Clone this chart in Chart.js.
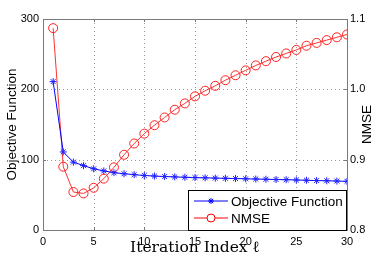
<!DOCTYPE html>
<html>
<head>
<meta charset="utf-8">
<script src="https://cdn.jsdelivr.net/npm/chart.js@4.4.0/dist/chart.umd.min.js"></script>
<style>
  html, body { margin: 0; padding: 0; background: #fff; }
  #wrap { width: 374px; height: 259px; }
</style>
</head>
<body>
<div id="wrap"><canvas id="convergenceChart" width="374" height="259"></canvas></div>
<script>
var iterations = [1, 2, 3, 4, 5, 6, 7, 8, 9, 10, 11, 12, 13, 14, 15, 16, 17, 18, 19, 20, 21, 22, 23, 24, 25, 26, 27, 28, 29, 30];
var objectiveValues = [211, 111, 96.5, 91.5, 87, 84, 81.5, 80, 78.7, 77.5, 76.7, 76, 75.5, 75, 74.5, 74.2, 73.8, 73.5, 73.2, 72.8, 72.5, 72.2, 71.8, 71.5, 71.1, 70.7, 70.3, 70, 69.6, 69.2];
var nmseValues = [1.087, 0.890, 0.854, 0.852, 0.860, 0.873, 0.889, 0.907, 0.923, 0.937, 0.949, 0.960, 0.971, 0.980, 0.990, 0.998, 1.005, 1.013, 1.020, 1.027, 1.034, 1.040, 1.046, 1.051, 1.056, 1.062, 1.066, 1.070, 1.074, 1.078];
var xTicks = [0, 5, 10, 15, 20, 25, 30];
var leftTicks = [0, 100, 200, 300];
var rightTicks = [0.8, 0.9, 1, 1.1];
var seriesNames = ["Objective Function", "NMSE"];

var sansFont = "'Liberation Sans', Arial, sans-serif";
var serifFont = "'DejaVu Serif', 'Liberation Serif', serif";

function toPoints(xs, ys){
    return xs.map(function(x, i){ return {x: x, y: ys[i]}; });
}

function fixedTicks(list){
    return function(scale){
        scale.ticks = list.map(function(v){ return {value: v}; });
    };
}

// dotted grid under the lines, box + inward ticks + legend + right title on top (MATLAB look)
var matlabFrame = {
    id: 'matlabFrame',
    beforeDatasetsDraw: function(chart){
        var ctx = chart.ctx;
        var a = chart.chartArea;
        var sx = chart.scales.x, sl = chart.scales.yLeft;
        ctx.save();
        ctx.strokeStyle = '#9a9a9a';
        ctx.lineWidth = 1;
        ctx.setLineDash([1, 3]);
        ctx.beginPath();
        xTicks.slice(1, -1).forEach(function(v){
            var px = Math.round(sx.getPixelForValue(v)) + 0.5;
            ctx.moveTo(px, a.top); ctx.lineTo(px, a.bottom);
        });
        leftTicks.slice(1, -1).forEach(function(v){
            var py = Math.round(sl.getPixelForValue(v)) + 0.5;
            ctx.moveTo(a.left, py); ctx.lineTo(a.right, py);
        });
        ctx.stroke();
        ctx.restore();
    },
    afterDraw: function(chart){
        var ctx = chart.ctx;
        var a = chart.chartArea;
        var sx = chart.scales.x, sl = chart.scales.yLeft, sr = chart.scales.yRight;
        ctx.save();
        ctx.strokeStyle = '#7a7a7a';
        ctx.lineWidth = 1;
        ctx.strokeRect(Math.round(a.left) + 0.5, Math.round(a.top) + 0.5, Math.round(a.right - a.left), Math.round(a.bottom - a.top));
        ctx.beginPath();
        xTicks.forEach(function(v){
            var px = Math.round(sx.getPixelForValue(v)) + 0.5;
            ctx.moveTo(px, a.bottom); ctx.lineTo(px, a.bottom - 3);
            ctx.moveTo(px, a.top); ctx.lineTo(px, a.top + 3);
        });
        leftTicks.forEach(function(v){
            var py = Math.round(sl.getPixelForValue(v)) + 0.5;
            ctx.moveTo(a.left, py); ctx.lineTo(a.left + 3, py);
        });
        rightTicks.forEach(function(v){
            var py = Math.round(sr.getPixelForValue(v)) + 0.5;
            ctx.moveTo(a.right, py); ctx.lineTo(a.right - 3, py);
        });
        ctx.stroke();

        // right axis title, reads bottom to top
        ctx.fillStyle = '#000';
        ctx.font = '13.5px ' + sansFont;
        ctx.textAlign = 'center';
        ctx.textBaseline = 'middle';
        ctx.translate(367, (a.top + a.bottom) / 2);
        ctx.rotate(-Math.PI / 2);
        ctx.fillText('NMSE', 0, 0);
        ctx.restore();

        // legend
        var lx = 188, ly = 190, lw = a.right - lx, lh = a.bottom - ly;
        ctx.save();
        ctx.fillStyle = '#fff';
        ctx.fillRect(lx, ly, lw, lh);
        ctx.strokeStyle = '#000';
        ctx.lineWidth = 1;
        ctx.strokeRect(lx + 0.5, ly + 0.5, lw - 1, lh);
        var rows = [
            {name: seriesNames[0], color: '#0000ff', style: 'star', y: ly + 11},
            {name: seriesNames[1], color: '#ff8080', style: 'circle', y: ly + 28}
        ];
        rows.forEach(function(r){
            ctx.strokeStyle = r.color;
            ctx.lineWidth = r.style === 'star' ? 1 : 2;
            ctx.beginPath();
            ctx.moveTo(lx + 6, r.y); ctx.lineTo(lx + 40, r.y);
            ctx.stroke();
            ctx.lineWidth = 1;
            ctx.strokeStyle = r.style === 'star' ? '#0000ff' : '#ff0000';
            ctx.fillStyle = '#fff';
            Chart.helpers.drawPoint(ctx, {pointStyle: r.style, radius: r.style === 'star' ? 3 : 4, rotation: 0, borderWidth: 1}, lx + 23, r.y);
            ctx.fillStyle = '#000';
            ctx.font = '13.5px ' + sansFont;
            ctx.textAlign = 'left';
            ctx.textBaseline = 'middle';
            ctx.fillText(r.name, lx + 43, r.y + 1);
        });
        ctx.restore();
    }
};

var chartData = {
    type: 'line',
    data: {
        datasets: [{
            label: seriesNames[0],
            data: toPoints(iterations, objectiveValues),
            yAxisID: 'yLeft',
            borderColor: '#0000ff',
            backgroundColor: '#0000ff',
            borderWidth: 1,
            pointStyle: 'star',
            pointRadius: 3.5,
            pointBorderWidth: 1,
            pointBorderColor: '#2020ff',
            tension: 0
        }, {
            label: seriesNames[1],
            data: toPoints(iterations, nmseValues),
            yAxisID: 'yRight',
            borderColor: '#ff3030',
            backgroundColor: 'rgba(0,0,0,0)',
            borderWidth: 1,
            pointStyle: 'circle',
            pointRadius: 4.5,
            pointBorderWidth: 1,
            pointBorderColor: '#ff2020',
            tension: 0
        }]
    },
    options: {
        responsive: false,
        animation: false,
        layout: {padding: {top: 19, left: 0, right: 0, bottom: 0}},
        plugins: {legend: {display: false}, tooltip: {enabled: false}},
        scales: {
            x: {
                type: 'linear',
                min: 0,
                max: 30,
                afterBuildTicks: fixedTicks(xTicks),
                afterFit: function(scale){ scale.height = 29; },
                grid: {display: false, drawTicks: false},
                border: {display: false},
                ticks: {color: '#000', padding: 5, maxRotation: 0, font: {family: sansFont, size: 11}},
                title: {display: true, text: 'Iteration Index ℓ', color: '#000', padding: {top: 0, bottom: 3}, font: {family: serifFont, size: 15.5, lineHeight: 1}}
            },
            yLeft: {
                type: 'linear',
                position: 'left',
                min: 0,
                max: 300,
                afterBuildTicks: fixedTicks(leftTicks),
                afterFit: function(scale){ scale.width = 43; },
                grid: {display: false, drawTicks: false},
                border: {display: false},
                ticks: {color: '#000', padding: 4, font: {family: sansFont, size: 11}},
                title: {display: true, text: 'Objective Function', color: '#000', padding: {top: 4, bottom: 0}, font: {family: sansFont, size: 13.5}}
            },
            yRight: {
                type: 'linear',
                position: 'right',
                min: 0.8,
                max: 1.1,
                afterBuildTicks: fixedTicks(rightTicks),
                afterFit: function(scale){ scale.width = 27; },
                grid: {display: false, drawTicks: false},
                border: {display: false},
                ticks: {color: '#000', padding: 3, font: {family: sansFont, size: 11}}
            }
        }
    },
    plugins: [matlabFrame]
};

var convergenceChartObject = new Chart(document.getElementById('convergenceChart').getContext('2d'), chartData);
</script>
</body>
</html>
